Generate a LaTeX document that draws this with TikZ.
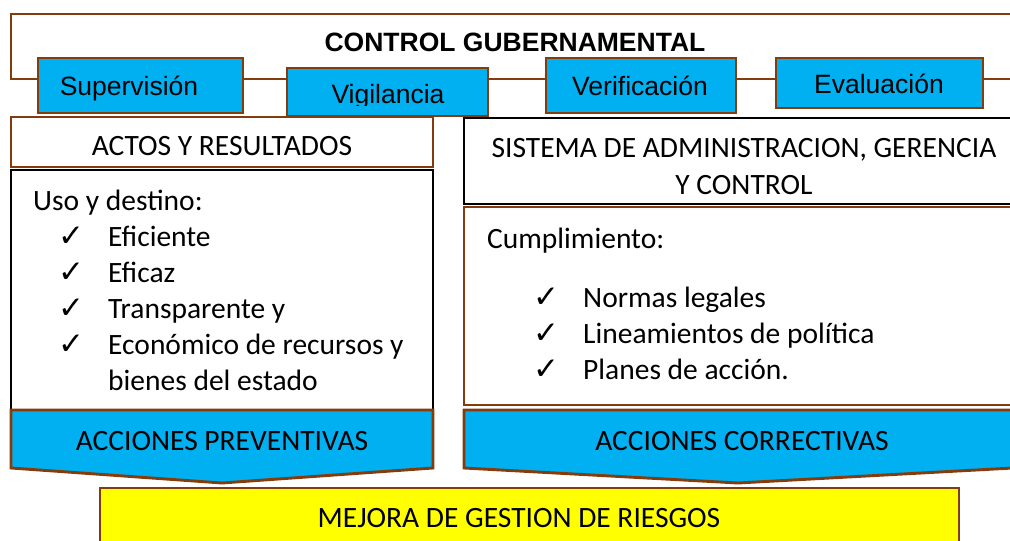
\documentclass[tikz,border=0pt]{standalone}
\usepackage{fontspec}
\setmainfont{Carlito}
\newfontfamily\arialf{Liberation Sans}
\newfontfamily\dejavu{DejaVu Sans}
\definecolor{brn}{RGB}{132,60,12}
\definecolor{sky}{RGB}{0,176,240}
\definecolor{yel}{RGB}{255,255,0}
\tikzset{
  brline/.style={draw=brn,line width=2.9pt},
  bkline/.style={draw=black,line width=2.9pt},
  bluebox/.style={brline,fill=sky},
  txt/.style={anchor=base,inner sep=0pt,font=\fontsize{29.5}{35}\selectfont},
  atxt/.style={anchor=base,inner sep=0pt,font=\arialf\fontsize{26.5}{32}\selectfont},
  ltxt/.style={anchor=base west,inner sep=0pt,font=\fontsize{29.5}{35}\selectfont},
  chk/.style={anchor=base west,inner sep=0pt,font=\dejavu\fontsize{31}{34}\selectfont}
}
\begin{document}
\begin{tikzpicture}[x=1pt,y=-1pt]
\useasboundingbox (0,0) rectangle (1010,541);
% top frame
\draw[brline] (1015,14) -- (11,14) -- (11,79) -- (1015,79);
\node[atxt,font=\arialf\bfseries\fontsize{26.5}{32}\selectfont] (title) at (515,51) {CONTROL GUBERNAMENTAL};
% blue boxes
\draw[bluebox] (38,58) rectangle (243,113);
\node[atxt] (sup) at (129,95) {Supervisión};
\draw[bluebox] (287,68) rectangle (488,116);
\begin{scope}
\clip (287,68) rectangle (488,105);
\node[atxt] (vig) at (388,103) {Vigilancia};
\end{scope}
\draw[bluebox] (546,58) rectangle (736,113);
\node[atxt] (ver) at (640,95) {Verificación};
\draw[bluebox] (776,58) rectangle (983,108);
\node[atxt] (eva) at (879,93.5) {Evaluación};
% left column
\draw[bkline] (11,170) rectangle (433,410);
\draw[brline,fill=white] (11,117) rectangle (433,167);
\node[txt] (actos) at (222,155) {ACTOS Y RESULTADOS};
\node[ltxt] (uso) at (33,210) {Uso y destino:};
\foreach \y/\t/\n in {246/Eficiente/a1,282/Eficaz/a2,318/Transparente y/a3,354/Económico de recursos y/a4}{
  \node[chk] (c\n) at (58,\y) {✓};
  \node[ltxt] (\n) at (108,\y) {\t};
}
\node[ltxt] (a5) at (108,390) {bienes del estado};
\draw[bluebox] (11,410) -- (433,410) -- (433,468) -- (222,483) -- (11,468) -- cycle;
\node[txt] (prev) at (222,450) {ACCIONES PREVENTIVAS};
% right column
\draw[bkline] (464,118) rectangle (1015,204);
\node[txt] (sis1) at (744,157) {SISTEMA DE ADMINISTRACION, GERENCIA};
\node[txt] (sis2) at (744,194) {Y CONTROL};
\draw[brline] (464,207) rectangle (1015,405);
\node[ltxt] (cum) at (487,248) {Cumplimiento:};
\foreach \y/\t/\n in {307/Normas legales/b1,343/Lineamientos de política/b2,379/Planes de acción./b3}{
  \node[chk] (c\n) at (533,\y) {✓};
  \node[ltxt] (\n) at (583,\y) {\t};
}
\draw[bluebox] (464,410) -- (1013,410) -- (1013,468) -- (738,483) -- (464,468) -- cycle;
\node[txt] (corr) at (742,450) {ACCIONES CORRECTIVAS};
% bottom
\draw[brline,fill=yel] (100,488) rectangle (959,560);
\node[txt] (mej) at (519,527) {MEJORA DE GESTION DE RIESGOS};
\end{tikzpicture}
\end{document}
